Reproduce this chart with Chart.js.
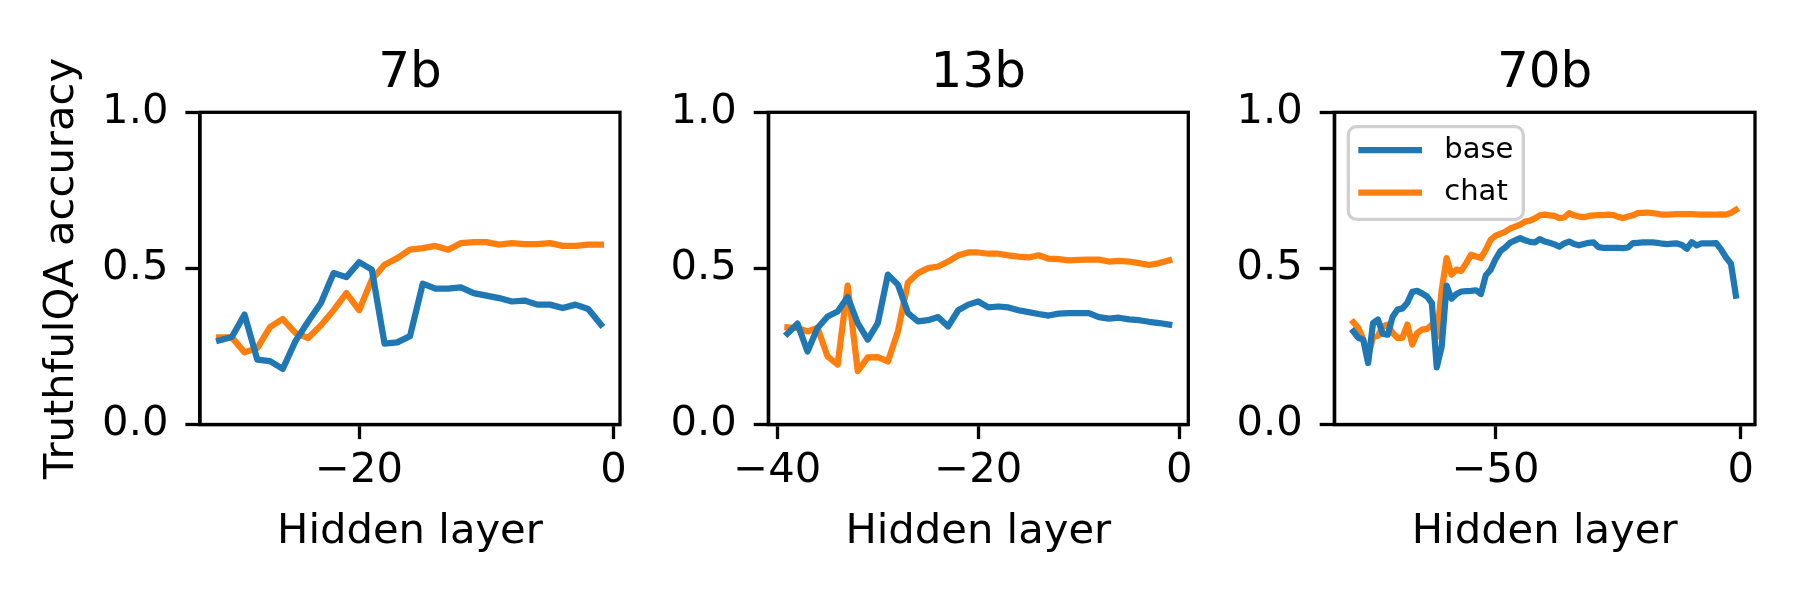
<!DOCTYPE html>
<html>
<head>
<meta charset="utf-8">
<script src="https://cdn.jsdelivr.net/npm/chart.js@4.4.1/dist/chart.umd.min.js"></script>
<style>
  html, body { margin: 0; padding: 0; background: #fff; }
  body { width: 1800px; height: 600px; position: relative; overflow: hidden; }
  .panel { position: absolute; top: 0; height: 600px; }
</style>
</head>
<body>
<div class="panel" style="left:0;width:650px"><canvas id="chart7b"></canvas></div>
<div class="panel" style="left:650px;width:570px"><canvas id="chart13b"></canvas></div>
<div class="panel" style="left:1220px;width:580px"><canvas id="chart70b"></canvas></div>
<script>
// data
var yTicks = [0, 0.5, 1.0];

var layers7 = [-31, -30, -29, -28, -27, -26, -25, -24, -23, -22, -21, -20, -19, -18, -17, -16,
               -15, -14, -13, -12, -11, -10, -9, -8, -7, -6, -5, -4, -3, -2, -1];
var base7 = [0.269, 0.28, 0.352, 0.208, 0.203, 0.178, 0.267, 0.33, 0.389, 0.485, 0.472, 0.52, 0.496, 0.259, 0.263, 0.283,
             0.451, 0.435, 0.435, 0.439, 0.421, 0.413, 0.405, 0.394, 0.397, 0.384, 0.384, 0.373, 0.384, 0.37, 0.32];
var chat7 = [0.279, 0.279, 0.231, 0.245, 0.312, 0.338, 0.293, 0.277, 0.318, 0.366, 0.421, 0.366, 0.464, 0.512, 0.533, 0.56,
             0.565, 0.572, 0.56, 0.581, 0.584, 0.584, 0.576, 0.581, 0.578, 0.578, 0.581, 0.572, 0.572, 0.576, 0.576];
var xTicks7 = [-20, 0];

var layers13 = [-39, -38, -37, -36, -35, -34, -33, -32, -31, -30, -29, -28, -27, -26, -25, -24, -23, -22, -21, -20,
                -19, -18, -17, -16, -15, -14, -13, -12, -11, -10, -9, -8, -7, -6, -5, -4, -3, -2, -1];
var base13 = [0.291, 0.323, 0.234, 0.309, 0.346, 0.362, 0.408, 0.325, 0.272, 0.325, 0.48, 0.448, 0.357, 0.33, 0.334, 0.344, 0.314,
              0.366, 0.384, 0.394, 0.375, 0.378, 0.375, 0.366, 0.36, 0.354, 0.349, 0.355, 0.357, 0.357, 0.357, 0.344, 0.339,
              0.342, 0.337, 0.334, 0.329, 0.325, 0.32];
var chat13 = [0.311, 0.309, 0.298, 0.309, 0.218, 0.192, 0.445, 0.171, 0.215, 0.216, 0.202, 0.298, 0.455, 0.485, 0.501, 0.506, 0.522,
              0.542, 0.551, 0.551, 0.547, 0.547, 0.542, 0.538, 0.535, 0.542, 0.531, 0.53, 0.526, 0.527, 0.528, 0.528, 0.522,
              0.524, 0.522, 0.517, 0.511, 0.517, 0.526];
var xTicks13 = [-40, -20, 0];

var layers70 = [-79, -78, -77, -76, -75, -74, -73, -72, -71, -70, -69, -68, -67, -66, -65, -64, -63, -62, -61, -60,
                -59, -58, -57, -56, -55, -54, -53, -52, -51, -50, -49, -48, -47, -46, -45, -44, -43, -42, -41, -40,
                -39, -38, -37, -36, -35, -34, -33, -32, -31, -30, -29, -28, -27, -26, -25, -24, -23, -22, -21, -20,
                -19, -18, -17, -16, -15, -14, -13, -12, -11, -10, -9, -8, -7, -6, -5, -4, -3, -2, -1];
var base70 = [0.298, 0.278, 0.272, 0.197, 0.325, 0.336, 0.29, 0.288, 0.345, 0.368, 0.372, 0.39, 0.425, 0.428, 0.42, 0.41,
              0.389, 0.183, 0.25, 0.445, 0.403, 0.418, 0.426, 0.427, 0.428, 0.43, 0.418, 0.478, 0.496, 0.53, 0.556, 0.568,
              0.583, 0.59, 0.597, 0.59, 0.585, 0.583, 0.594, 0.586, 0.582, 0.577, 0.57, 0.58, 0.586, 0.578, 0.574, 0.578,
              0.582, 0.583, 0.568, 0.566, 0.566, 0.566, 0.566, 0.565, 0.567, 0.581, 0.582, 0.583, 0.583, 0.583, 0.582, 0.579,
              0.578, 0.579, 0.58, 0.575, 0.563, 0.584, 0.574, 0.58, 0.58, 0.58, 0.581, 0.56, 0.535, 0.515, 0.413];
var chat70 = [0.327, 0.309, 0.272, 0.221, 0.28, 0.284, 0.314, 0.32, 0.293, 0.277, 0.278, 0.32, 0.256, 0.293, 0.304, 0.306,
              0.32, 0.28, 0.43, 0.533, 0.48, 0.496, 0.492, 0.517, 0.544, 0.538, 0.533, 0.56, 0.592, 0.605, 0.611, 0.618,
              0.628, 0.634, 0.64, 0.65, 0.653, 0.66, 0.67, 0.672, 0.67, 0.668, 0.661, 0.663, 0.677, 0.67, 0.666, 0.664,
              0.668, 0.67, 0.671, 0.671, 0.672, 0.671, 0.665, 0.661, 0.666, 0.67, 0.677, 0.678, 0.679, 0.677, 0.675, 0.672,
              0.672, 0.673, 0.674, 0.674, 0.674, 0.674, 0.673, 0.672, 0.672, 0.672, 0.672, 0.673, 0.672, 0.678, 0.688];
var xTicks70 = [-50, 0];

var BLUE = '#1f77b4';
var ORANGE = '#ff7f0e';
var LINE = 3.3;   // spine / tick width

Chart.defaults.font.family = "'DejaVu Sans', sans-serif";
Chart.defaults.font.size = 41.7;
Chart.defaults.color = '#000';

// closed box around the plot area
var frameBox = {
    id: 'frameBox',
    afterDatasetsDraw: function (chart) {
        var a = chart.chartArea, c = chart.ctx;
        c.save();
        c.lineWidth = LINE;
        c.strokeStyle = '#000';
        c.strokeRect(a.left, a.top, a.right - a.left, a.bottom - a.top);
        c.restore();
    }
};

// panel title centred over the plot area, like matplotlib's ax.set_title
var axesTitle = {
    id: 'axesTitle',
    afterDraw: function (chart, args, opts) {
        var a = chart.chartArea, c = chart.ctx;
        c.save();
        c.fillStyle = '#000';
        c.font = "50px 'DejaVu Sans', sans-serif";
        c.textAlign = 'center';
        c.textBaseline = 'alphabetic';
        c.fillText(opts.text, (a.left + a.right) / 2, a.top - 25.6);
        c.restore();
    }
};

// matplotlib-like legend in the upper left corner
var insetLegend = {
    id: 'insetLegend',
    afterDatasetsDraw: function (chart, args, opts) {
        if (!opts.display) return;
        var a = chart.chartArea, c = chart.ctx;
        var x = a.left + 14, y = a.top + 14.4, w = 175, h = 92.6;
        c.save();
        c.beginPath();
        c.roundRect(x, y, w, h, 8);
        c.fillStyle = 'rgba(255,255,255,0.8)';
        c.fill();
        c.lineWidth = LINE;
        c.strokeStyle = '#d0d0d0';
        c.stroke();
        chart.data.datasets.forEach(function (ds, i) {
            var ly = y + 23.3 + i * 42.7;
            c.beginPath();
            c.moveTo(x + 10, ly);
            c.lineTo(x + 73.7, ly);
            c.strokeStyle = ds.borderColor;
            c.lineWidth = 6.25;
            c.stroke();
            c.fillStyle = '#000';
            c.font = "29px 'DejaVu Sans', sans-serif";
            c.textBaseline = 'middle';
            c.textAlign = 'left';
            c.fillText(ds.label, x + 96, ly);
        });
        c.restore();
    }
};

function minusLabel(v) {
    return v < 0 ? '\u2212' + Math.abs(v) : String(v);
}

function makePanel(id, title, layers, base, chat, xMin, xMax, xTicks, axisWidth, padRight, showYTitle, showLegend) {
    var ctx = document.getElementById(id).getContext('2d');
    var series = function (vals) {
        return layers.map(function (x, i) { return { x: x, y: vals[i] }; });
    };
    var lineStyle = {
        borderWidth: 6.25,
        pointRadius: 0,
        tension: 0,
        fill: false,
        borderJoinStyle: 'round',
        borderCapStyle: 'square'
    };
    return new Chart(ctx, {
        type: 'line',
        data: {
            datasets: [
                Object.assign({ label: 'base', data: series(base), borderColor: BLUE }, lineStyle),
                Object.assign({ label: 'chat', data: series(chat), borderColor: ORANGE }, lineStyle)
            ]
        },
        options: {
            responsive: true,
            maintainAspectRatio: false,
            animation: false,
            events: [],
            layout: { padding: { left: 0, right: padRight, top: 112.3, bottom: 0 } },
            plugins: {
                legend: { display: false },
                tooltip: { enabled: false },
                title: { display: false },
                axesTitle: { text: title },
                insetLegend: { display: showLegend }
            },
            scales: {
                x: {
                    type: 'linear',
                    min: xMin,
                    max: xMax,
                    afterBuildTicks: function (axis) {
                        axis.ticks = xTicks.map(function (v) { return { value: v }; });
                    },
                    afterFit: function (s) { s.height = 175.5; },
                    ticks: { callback: minusLabel, padding: 7, maxRotation: 0 },
                    grid: { drawOnChartArea: false, drawTicks: true, tickLength: 14.6, tickWidth: LINE, tickColor: '#000' },
                    border: { display: true, color: '#000', width: LINE },
                    title: { display: true, text: 'Hidden layer', color: '#000', padding: { top: 0, bottom: 43 } }
                },
                y: {
                    min: 0,
                    max: 1,
                    afterBuildTicks: function (axis) {
                        axis.ticks = yTicks.map(function (v) { return { value: v }; });
                    },
                    afterFit: function (s) { s.width = axisWidth; },
                    ticks: { callback: function (v) { return v.toFixed(1); }, padding: 17 },
                    grid: { drawOnChartArea: false, drawTicks: true, tickLength: 14.6, tickWidth: LINE, tickColor: '#000' },
                    border: { display: true, color: '#000', width: LINE },
                    title: { display: showYTitle, text: 'TruthfulQA accuracy', color: '#000', padding: { top: 37, bottom: 0 } }
                }
            }
        },
        plugins: [frameBox, axesTitle, insetLegend]
    });
}

makePanel('chart7b', '7b', layers7, base7, chat7, -32.5, 0.5, xTicks7, 200, 30, true, false);
makePanel('chart13b', '13b', layers13, base13, chat13, -40.9, 0.9, xTicks13, 118.3, 31.7, false, false);
makePanel('chart70b', '70b', layers70, base70, chat70, -82.9, 2.9, xTicks70, 114.3, 45, false, true);
</script>
</body>
</html>
